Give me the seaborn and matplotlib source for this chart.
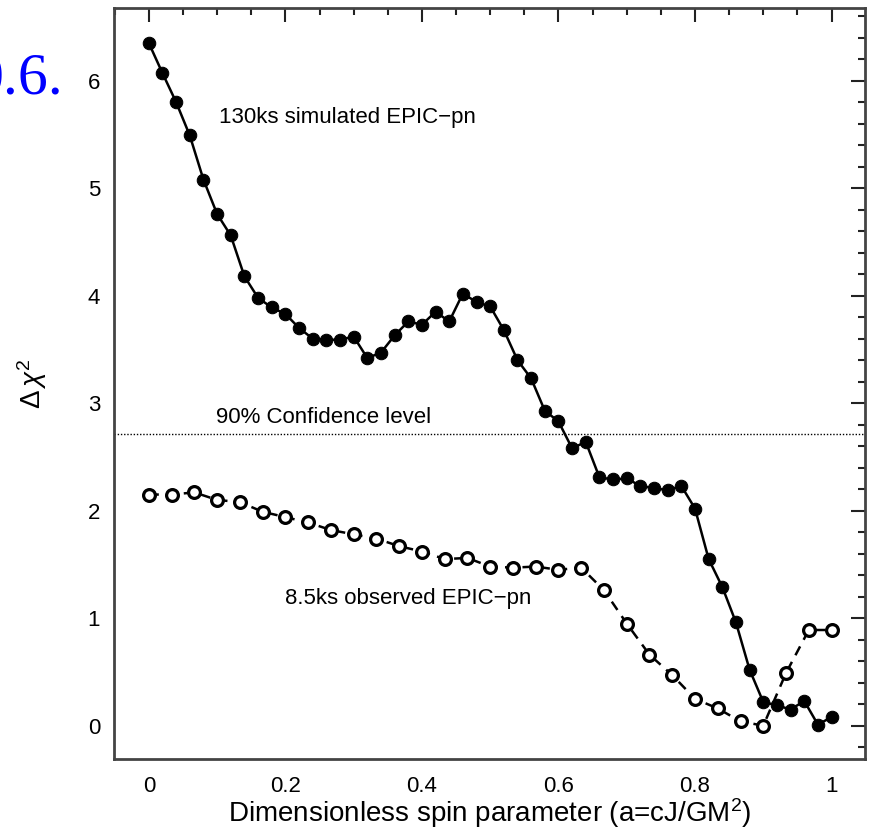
import numpy as np
import pandas as pd
import matplotlib
matplotlib.use("Agg")
import matplotlib.pyplot as plt
from matplotlib.ticker import MultipleLocator
import seaborn as sns

# ---- data ----
spin_sim = [i * 0.02 for i in range(51)]
dchi2_sim = [6.35, 6.07, 5.80, 5.49, 5.08, 4.76, 4.56, 4.18, 3.98, 3.89,
             3.83, 3.70, 3.60, 3.59, 3.59, 3.62, 3.42, 3.47, 3.63, 3.76,
             3.73, 3.85, 3.76, 4.02, 3.94, 3.90, 3.68, 3.40, 3.23, 2.93,
             2.83, 2.58, 2.64, 2.31, 2.29, 2.30, 2.23, 2.21, 2.19, 2.23,
             2.02, 1.55, 1.29, 0.96, 0.52, 0.22, 0.19, 0.15, 0.23, 0.01,
             0.08]

spin_obs = [i / 30 for i in range(31)]
dchi2_obs = [2.15, 2.15, 2.17, 2.10, 2.08, 1.99, 1.94, 1.89, 1.82, 1.78,
             1.74, 1.67, 1.62, 1.55, 1.56, 1.48, 1.47, 1.48, 1.45, 1.47,
             1.26, 0.95, 0.66, 0.47, 0.25, 0.16, 0.04, 0.00, 0.49, 0.89,
             0.89]

conf_level = 2.71
x_ticks = [0, 0.2, 0.4, 0.6, 0.8, 1]
x_ticklabels = ["0", "0.2", "0.4", "0.6", "0.8", "1"]
y_ticks = [0, 1, 2, 3, 4, 5, 6]

label_sim = "130ks simulated EPIC\u2212pn"
label_obs = "8.5ks observed EPIC\u2212pn"
label_conf = "90% Confidence level"

sns.set_theme(style="white")
plt.rcParams["font.family"] = ["Liberation Sans", "DejaVu Sans"]
plt.rcParams["mathtext.fontset"] = "custom"
plt.rcParams["mathtext.rm"] = "Liberation Sans"
plt.rcParams["mathtext.it"] = "Liberation Sans:italic"
plt.rcParams["text.color"] = "black"
plt.rcParams["axes.labelcolor"] = "black"
plt.rcParams["xtick.color"] = "black"
plt.rcParams["ytick.color"] = "black"

fig = plt.figure(figsize=(8.74, 8.30), dpi=100)
ax = fig.add_axes([114 / 874, 1 - 759 / 830, (865 - 114) / 874, (759 - 8) / 830])

df_sim = pd.DataFrame({"spin": spin_sim, "dchi2": dchi2_sim})
df_obs = pd.DataFrame({"spin": spin_obs, "dchi2": dchi2_obs})

sns.lineplot(data=df_sim, x="spin", y="dchi2", ax=ax, color="black",
             linewidth=1.8, marker="o", markersize=9,
             markerfacecolor="black", markeredgecolor="black")
sns.lineplot(data=df_obs, x="spin", y="dchi2", ax=ax, color="black",
             linewidth=1.8, linestyle=(0, (4, 3)), marker="o", markersize=8.5,
             markerfacecolor="white", markeredgecolor="black",
             markeredgewidth=2.3)

ax.axhline(conf_level, color="black", linestyle=(0, (1, 1.3)), linewidth=1.0)

ax.set_xlim(-0.051, 1.049)
ax.set_ylim(-0.31, 6.676)

ax.set_xticks(x_ticks)
ax.set_xticklabels(x_ticklabels)
ax.set_yticks(y_ticks)
ax.xaxis.set_minor_locator(MultipleLocator(0.05))
ax.yaxis.set_minor_locator(MultipleLocator(0.2))
ax.tick_params(which="both", direction="in", top=True, right=True,
               color="#222222", width=1.5)
ax.tick_params(which="major", length=10, labelsize=16)
ax.tick_params(axis="x", which="major", pad=12)
ax.tick_params(axis="y", which="major", pad=10)
ax.tick_params(which="minor", length=5)

for s in ax.spines.values():
    s.set_linewidth(2)
    s.set_color("#444444")

ax.set_xlabel("Dimensionless spin parameter (a=cJ/GM$^2$)", fontsize=20,
              labelpad=0)
ax.set_ylabel(r"$\Delta\,\chi^2$", fontsize=20, labelpad=28)

ax.text(0.103, 5.66, label_sim, fontsize=16, va="center", ha="left")
ax.text(0.099, 2.87, label_conf, fontsize=16, va="center", ha="left")
ax.text(0.199, 1.185, label_obs, fontsize=16, va="center", ha="left")

fig.text(63 / 874, 1 - 93 / 830, "0.6.", color="blue", fontsize=43,
         family="Liberation Serif", ha="right", va="baseline")

fig.savefig("out.png", dpi=100)
